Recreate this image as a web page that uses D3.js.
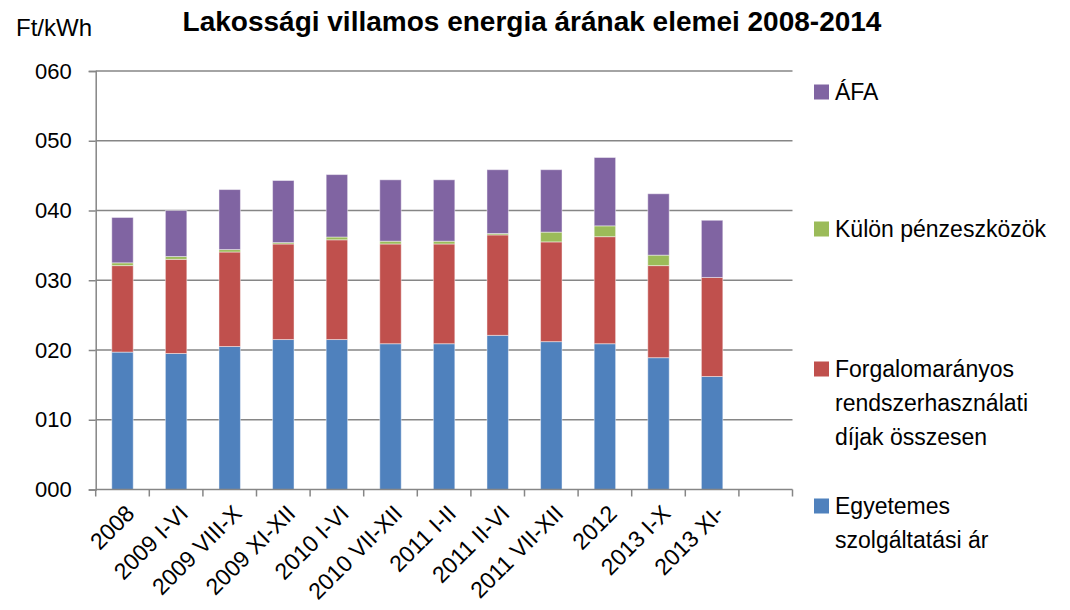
<!DOCTYPE html>
<head>
  <meta charset="utf-8">
  <script src="https://d3js.org/d3.v7.min.js"></script>
  <style>
    body { margin: 0; background: #fff; }
    text { font-family: "Liberation Sans", Arial, sans-serif; fill: #000; }
    .grid line, .axis path, .axis line { stroke: #868686; stroke-width: 1.5; }
  </style>
</head>
<body>
  <div id="graph"></div>
  <script>
    var width = 1070;
    var height = 610;

    // data (Ft/kWh)
    var categories = ["2008", "2009 I-VI", "2009 VIII-X", "2009 XI-XII", "2010 I-VI", "2010 VII-XII",
      "2011 I-II", "2011 II-VI", "2011 VII-XII", "2012", "2013 I-X", "2013 XI-", ""];
    var egyetemes = [19.7, 19.5, 20.5, 21.5, 21.5, 20.9, 20.9, 22.1, 21.2, 20.9, 18.9, 16.2, 0];
    var forgalom = [12.4, 13.5, 13.55, 13.7, 14.3, 14.3, 14.3, 14.4, 14.3, 15.35, 13.2, 14.2, 0];
    var kulon = [0.4, 0.4, 0.35, 0.2, 0.4, 0.4, 0.4, 0.2, 1.4, 1.55, 1.5, 0, 0];
    var afa = [6.5, 6.6, 8.6, 8.9, 8.95, 8.8, 8.8, 9.15, 8.95, 9.8, 8.8, 8.2, 0];
    var yTicks = [0, 10, 20, 30, 40, 50, 60];

    var seriesNames = ["Egyetemes\nszolgáltatási ár", "Forgalomarányos\nrendszerhasználati\ndíjak összesen",
      "Külön pénzeszközök", "ÁFA"];
    var colors = ["#4F81BD", "#C0504D", "#9BBB59", "#8064A2"];

    var svg = d3.select("#graph").append("svg")
      .attr("width", width)
      .attr("height", height);

    var xmin = 95.7, xmax = 792.5, ymin = 71, ymax = 489.5;

    var x = d3.scaleBand()
      .domain(d3.range(categories.length))
      .range([xmin, xmax])
      .paddingInner(0.6)
      .paddingOuter(0.3);
    var slot = d3.scaleBand().domain(d3.range(categories.length)).range([xmin, xmax]);

    var y = d3.scaleLinear().domain([0, 60]).range([ymax, ymin]);

    // gridlines
    svg.append("g").attr("class", "grid")
      .selectAll("line").data(yTicks.slice(1)).enter()
      .append("line")
      .attr("x1", xmin).attr("x2", xmax)
      .attr("y1", d => y(d)).attr("y2", d => y(d));

    // stacked bars
    var rows = categories.map((c, i) => ({ i: i, s0: egyetemes[i], s1: forgalom[i], s2: kulon[i], s3: afa[i] }));
    var stack = d3.stack().keys(["s0", "s1", "s2", "s3"])(rows);

    svg.append("g").selectAll("g").data(stack).enter()
      .append("g")
      .attr("fill", (d, k) => colors[k])
      .selectAll("rect").data(d => d.filter(p => p[1] - p[0] > 0)).enter()
      .append("rect")
      .attr("x", d => x(d.data.i))
      .attr("width", x.bandwidth())
      .attr("y", d => y(d[1]))
      .attr("height", d => y(d[0]) - y(d[1]))
      .attr("stroke", "rgba(255,255,255,0.45)")
      .attr("stroke-width", 1);

    // y axis
    var yAxis = d3.axisLeft(y).tickValues(yTicks).tickSize(7).tickPadding(17)
      .tickFormat(d => d3.format("03d")(d));
    svg.append("g").attr("class", "axis")
      .attr("transform", "translate(" + xmin + ",0)")
      .call(yAxis)
      .call(g => g.selectAll("text").style("font-size", "22px"));

    // x axis line + ticks at slot boundaries
    var xg = svg.append("g").attr("class", "axis");
    xg.append("line").attr("x1", xmin).attr("x2", xmax).attr("y1", ymax).attr("y2", ymax);
    xg.selectAll(".tk").data(d3.range(categories.length + 1)).enter()
      .append("line")
      .attr("x1", d => xmin + d * slot.step()).attr("x2", d => xmin + d * slot.step())
      .attr("y1", ymax).attr("y2", ymax + 7);

    xg.selectAll(".lbl").data(categories).enter()
      .append("text")
      .attr("text-anchor", "end")
      .style("font-size", "23px")
      .attr("transform", (d, i) => "translate(" + (x(i) + x.bandwidth() / 2 + 2) + "," + (ymax + 14) + ") rotate(-45)")
      .attr("dy", "0.7em")
      .text(d => d);

    // title and unit
    svg.append("text")
      .attr("x", 532).attr("y", 31)
      .attr("text-anchor", "middle")
      .style("font-family", "'Liberation Sans Narrow', 'Liberation Sans', sans-serif")
      .style("font-weight", "bold")
      .style("font-size", "28px")
      .text("Lakossági villamos energia árának elemei 2008-2014");

    svg.append("text")
      .attr("x", 16).attr("y", 36)
      .style("font-size", "24px")
      .text("Ft/kWh");

    // legend (top to bottom reversed order)
    var legendY = [92, 229, 369, 506];
    var legend = svg.append("g").selectAll("g").data([3, 2, 1, 0]).enter()
      .append("g")
      .attr("transform", (k, j) => "translate(814," + legendY[j] + ")");
    legend.append("rect")
      .attr("x", 0).attr("y", -7.5).attr("width", 15).attr("height", 15)
      .attr("fill", k => colors[k]);
    legend.append("text")
      .attr("x", 21)
      .style("font-size", "23px")
      .selectAll("tspan").data(k => seriesNames[k].split("\n")).enter()
      .append("tspan")
      .attr("x", 21)
      .attr("y", (d, j) => j * 34)
      .attr("dy", "0.36em")
      .text(d => d);
  </script>
</body>
